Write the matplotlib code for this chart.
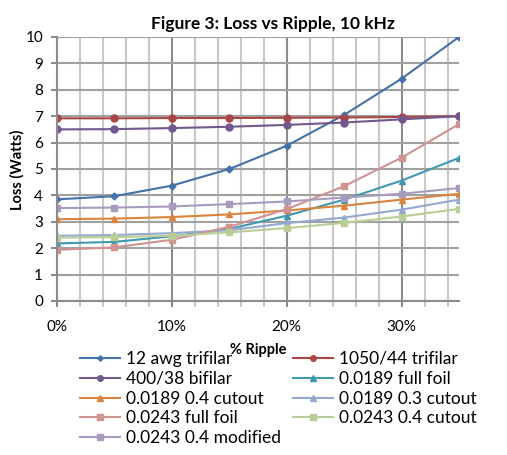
import matplotlib
matplotlib.use("Agg")
import matplotlib.pyplot as plt
from matplotlib.ticker import MultipleLocator, FuncFormatter

plt.rcParams['font.family'] = ['Lato', 'DejaVu Sans']

ripple = [0.0, 0.05, 0.10, 0.15, 0.20, 0.25, 0.30, 0.35]

awg12_trifilar = [3.85, 3.97, 4.37, 5.0, 5.88, 7.05, 8.42, 10.0]
litz_1050_44 = [6.92, 6.92, 6.93, 6.93, 6.94, 6.95, 6.97, 7.0]
litz_400_38 = [6.5, 6.51, 6.55, 6.6, 6.67, 6.76, 6.88, 7.0]
foil_0189_full = [2.18, 2.24, 2.45, 2.73, 3.23, 3.84, 4.56, 5.42]
foil_0189_04 = [3.1, 3.12, 3.18, 3.28, 3.43, 3.61, 3.84, 4.06]
foil_0189_03 = [2.47, 2.5, 2.57, 2.68, 2.95, 3.16, 3.46, 3.84]
foil_0243_full = [1.94, 2.03, 2.32, 2.81, 3.48, 4.35, 5.43, 6.7]
foil_0243_04 = [2.4, 2.42, 2.47, 2.6, 2.76, 2.96, 3.2, 3.49]
foil_0243_04mod = [3.52, 3.54, 3.58, 3.67, 3.77, 3.92, 4.06, 4.28]

labels = ["12 awg trifilar", "1050/44 trifilar", "400/38 bifilar",
          "0.0189 full foil", "0.0189 0.4 cutout", "0.0189 0.3 cutout",
          "0.0243 full foil", "0.0243 0.4 cutout", "0.0243 0.4 modified"]
series = [awg12_trifilar, litz_1050_44, litz_400_38, foil_0189_full,
          foil_0189_04, foil_0189_03, foil_0243_full, foil_0243_04,
          foil_0243_04mod]
colors = ["#4572A7", "#AA4643", "#71588F", "#4198AF", "#DB843D",
          "#93A9CF", "#D19392", "#B9CD96", "#A99BBD"]
markers = ["D", "o", "o", "^", "^", "^", "s", "s", "s"]
msizes = [3.5, 5, 5, 5, 5, 5, 5, 5, 5]

fig = plt.figure(figsize=(5.07, 4.55), dpi=100)
ax = fig.add_axes([57/507, 1 - 301/455, (459-57)/507, (301-37)/455])

handles = []
for y, lab, c, m, ms in zip(series, labels, colors, markers, msizes):
    h, = ax.plot(ripple, y, color=c, marker=m, markersize=ms, linewidth=1.5,
                 label=lab)
    handles.append(h)

ax.set_xlim(0, 0.35)
ax.set_ylim(0, 10)
ax.xaxis.set_major_locator(MultipleLocator(0.1))
ax.xaxis.set_minor_locator(MultipleLocator(0.02))
ax.yaxis.set_major_locator(MultipleLocator(1))
ax.xaxis.set_major_formatter(FuncFormatter(lambda v, p: f"{v*100:.0f}%"))

ax.grid(which='major', axis='x', color='#8c8c8c', linewidth=1.5)
ax.grid(which='minor', axis='x', color='#c8c8c8', linewidth=1.5)
ax.grid(which='major', axis='y', color='#a0a0a0', linewidth=1.5)
ax.set_axisbelow(True)

for s in ['top', 'right']:
    ax.spines[s].set_visible(False)
for s in ['left', 'bottom']:
    ax.spines[s].set_color('#8c8c8c')
    ax.spines[s].set_linewidth(1.5)

ax.tick_params(axis='both', which='major', labelsize=11, colors='#8c8c8c',
               labelcolor='black', length=4, width=1.5, pad=6)
ax.tick_params(axis='x', which='minor', length=4, width=1.5, colors='#c8c8c8')
ax.tick_params(axis='x', which='major', pad=10)

fig.text(273/507, 1 - 24/455, "Figure 3: Loss vs Ripple, 10 kHz",
         ha='center', va='center', fontsize=12.5, fontweight='bold')
fig.text(17/507, 1 - 170/455, "Loss (Watts)", rotation=90, ha='center',
         va='center', fontsize=10.5, fontweight='bold')
fig.text(258/507, 1 - 350/455, "% Ripple", ha='center', va='center',
         fontsize=10.5, fontweight='bold')

leg_kw = dict(loc='upper left', bbox_transform=fig.transFigure, ncol=1,
              frameon=False, fontsize=12.5, handlelength=2.3,
              handletextpad=0.35, labelspacing=0.22, markerscale=0.8,
              borderaxespad=0, borderpad=0)
col1 = [0, 2, 4, 6, 8]
col2 = [1, 3, 5, 7]
leg1 = ax.legend([handles[i] for i in col1], [labels[i] for i in col1],
                 bbox_to_anchor=(80/507, 1 - 351/455), **leg_kw)
ax.add_artist(leg1)
ax.legend([handles[i] for i in col2], [labels[i] for i in col2],
          bbox_to_anchor=(293/507, 1 - 351/455), **leg_kw)

fig.savefig("out.png", dpi=100)
